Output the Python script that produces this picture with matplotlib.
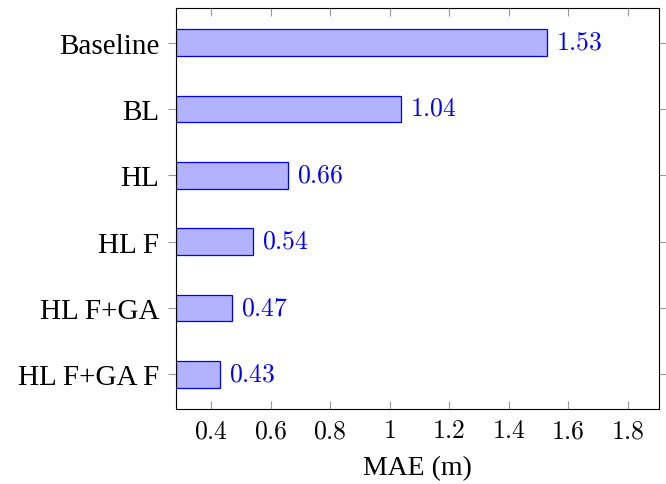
import numpy as np
import matplotlib
matplotlib.use("Agg")
import matplotlib.pyplot as plt

plt.rcParams['font.family'] = ['Liberation Serif', 'DejaVu Serif']
plt.rcParams['mathtext.fontset'] = 'cm'

# Data
methods = ['Baseline', 'BL', 'HL', 'HL F', 'HL F+GA', 'HL F+GA F']
mae = [1.53, 1.04, 0.66, 0.54, 0.47, 0.43]
xticks = [0.4, 0.6, 0.8, 1.0, 1.2, 1.4, 1.6, 1.8]
xticklabels = ['0.4', '0.6', '0.8', '1', '1.2', '1.4', '1.6', '1.8']

xmin = 0.2825
fig = plt.figure(figsize=(6.66, 4.85), dpi=100)
ax = fig.add_axes([176/666, 1 - 410/485, (659-176)/666, (410-9)/485])

y = np.arange(len(methods))[::-1]
widths = [v - xmin for v in mae]
ax.barh(y, widths, left=xmin, height=0.4, color='#b2b2ff', edgecolor='blue', linewidth=0.9)
for yi, v in zip(y, mae):
    ax.text(v + 0.03, yi, r'$%.2f$' % v, color='blue', fontsize=18.5, va='center', ha='left')

ax.set_xlim(xmin, 1.905)
ax.set_ylim(-0.52, 5.52)
ax.set_yticks(y)
ax.set_yticklabels(methods, fontsize=21)
ax.set_xticks(xticks)
ax.set_xticklabels(['$%s$' % t for t in xticklabels], fontsize=18.5)
ax.tick_params(axis='x', direction='in', top=True, bottom=True, length=6, color='#999999', width=0.8, pad=8)
ax.tick_params(axis='y', direction='out', left=True, right=True, length=6, color='#999999', width=0.8, pad=6)
for s in ax.spines.values():
    s.set_linewidth(0.8)
ax.set_xlabel('MAE (m)', fontsize=20, labelpad=9)

fig.savefig('out.png', dpi=100)
